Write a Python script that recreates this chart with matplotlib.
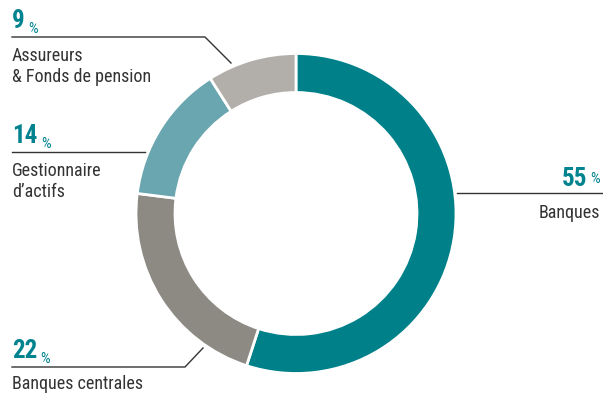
import matplotlib
matplotlib.use("Agg")
import matplotlib.pyplot as plt

plt.rcParams["font.family"] = ["Liberation Sans Narrow", "Roboto Condensed", "DejaVu Sans"]

labels = ["Banques", "Banques centrales", "Gestionnaire\nd\u2019actifs", "Assureurs\n& Fonds de pension"]
values = [55, 22, 14, 9]
colors = ["#00818a", "#8c8a83", "#69a6b0", "#b2afaa"]

teal = "#00838f"
dark = "#333333"

fig = plt.figure(figsize=(6.03, 3.95), dpi=100)
ax = fig.add_axes([0, 0, 1, 1])
ax.set_xlim(0, 603)
ax.set_ylim(395, 0)
ax.set_aspect("equal")
ax.axis("off")

# y axis is inverted, so a counterclockwise pie from -90 reads clockwise from the top
ax.pie(values, colors=colors, startangle=-90, counterclock=True,
       center=(296, 213.5), radius=160,
       wedgeprops=dict(width=39, edgecolor="white", linewidth=2))
ax.set_xlim(0, 603)
ax.set_ylim(395, 0)


def pct_left(x, y, v):
    t = ax.text(x, y, str(v), color=teal, fontsize=18, fontweight="bold",
                ha="left", va="baseline")
    ax.annotate("%", xy=(1, 0), xycoords=t, xytext=(2.5, 0), textcoords="offset points",
                color=teal, fontsize=11, ha="left", va="baseline")


def pct_right(x, y, v):
    p = ax.text(x, y, "%", color=teal, fontsize=11, ha="right", va="baseline")
    ax.annotate(str(v), xy=(0, 0), xycoords=p, xytext=(-2.5, 0), textcoords="offset points",
                color=teal, fontsize=18, fontweight="bold", ha="right", va="baseline")


def label_lines(x, y, text, ha="left"):
    for i, line in enumerate(text.split("\n")):
        ax.text(x, y + i * 21, line, color=dark, fontsize=13, ha=ha, va="baseline")


# Assureurs
pct_left(12, 28, values[3])
ax.plot([12, 205, 231], [37, 37, 63], color=dark, lw=1)
label_lines(12, 61, labels[3])

# Gestionnaire d'actifs
pct_left(12, 143, values[2])
ax.plot([12, 145], [152, 152], color=dark, lw=1)
label_lines(12, 176, labels[2])

# Banques centrales
pct_left(12, 358, values[1])
ax.plot([12, 185, 203], [367, 367, 348], color=dark, lw=1)
label_lines(12, 389, labels[1])

# Banques
pct_right(600, 183, values[0])
ax.plot([457, 603], [193, 193], color=dark, lw=1)
label_lines(600, 218, labels[0], ha="right")

fig.savefig("out.png", dpi=100)
